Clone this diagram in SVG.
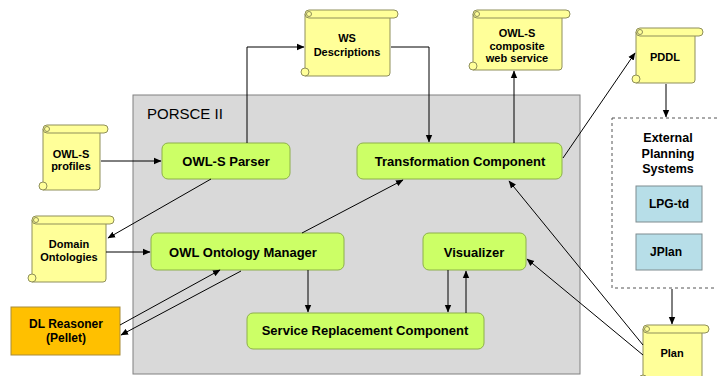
<svg xmlns="http://www.w3.org/2000/svg" width="717" height="376" viewBox="0 0 717 376">
<defs>
<marker id="arr" markerWidth="8" markerHeight="8" refX="7" refY="4" orient="auto" markerUnits="userSpaceOnUse">
<path d="M0,0.8 L7.5,4 L0,7.2 Z" fill="#000"/>
</marker>
<style>
.scroll{fill:#ffff99;stroke:#8f8f5a;stroke-width:1}
.curl{fill:#ffff99;stroke:#8f8f5a;stroke-width:1}
.green{fill:#ccff66;stroke:#8db04a;stroke-width:1}
.t{font-family:"Liberation Sans",Arial,sans-serif;font-weight:bold;text-anchor:middle;fill:#000}
.ts{font-size:11px}
.tn{font-size:13px}
.c{fill:none;stroke:#000;stroke-width:1;marker-end:url(#arr)}
</style>
</defs>
<rect width="717" height="376" fill="#fff"/>

<g id="porsce">
<rect x="133" y="95" width="447" height="279" fill="#d9d9d9" stroke="#808080" stroke-width="1"/>
<text x="147" y="119" font-family="'Liberation Sans',Arial,sans-serif" font-size="15" fill="#000">PORSCE II</text>
</g>

<g id="external">
<rect x="612" y="118" width="110" height="170" fill="#fff" stroke="#555" stroke-width="1" stroke-dasharray="3,3"/>
<text class="t" font-size="12.5" x="668" y="142">External</text>
<text class="t" font-size="12.5" x="668" y="158">Planning</text>
<text class="t" font-size="12.5" x="668" y="173">Systems</text>
</g>

<g id="lpgtd">
<rect x="636" y="186" width="66" height="36" fill="#b7dee8" stroke="#7f8c8f"/>
<text class="t" font-size="12" x="669" y="208">LPG-td</text>
</g>
<g id="jplan">
<rect x="636" y="234" width="66" height="36" fill="#b7dee8" stroke="#7f8c8f"/>
<text class="t" font-size="12" x="666" y="256">JPlan</text>
</g>

<g id="ws">
<path class="scroll" d="M305,14 H390 V73 Q390,76 387,76 H305 Z"/>
<rect class="scroll" x="305" y="10" width="93" height="8" rx="4"/>
<circle class="curl" cx="309" cy="14" r="2.5"/>
<circle class="curl" cx="305" cy="72" r="4"/>
<text class="t ts" x="347" y="42">WS</text>
<text class="t ts" x="347" y="56">Descriptions</text>
</g>

<g id="composite">
<path class="scroll" d="M473,14 H562 V67 Q562,70 559,70 H473 Z"/>
<rect class="scroll" x="473" y="10" width="97" height="8" rx="4"/>
<circle class="curl" cx="477" cy="14" r="2.5"/>
<circle class="curl" cx="473" cy="66" r="4"/>
<text class="t ts" x="517" y="37">OWL-S</text>
<text class="t ts" x="517" y="50">composite</text>
<text class="t ts" x="517" y="62">web service</text>
</g>

<g id="pddl">
<path class="scroll" d="M636,32 H695 V80 Q695,83 692,83 H636 Z"/>
<rect class="scroll" x="636" y="28" width="67" height="8" rx="4"/>
<circle class="curl" cx="640" cy="32" r="2.5"/>
<circle class="curl" cx="636" cy="79" r="4"/>
<text class="t ts" x="665" y="61">PDDL</text>
</g>

<g id="profiles">
<path class="scroll" d="M43,129 H100 V187 Q100,190 97,190 H43 Z"/>
<rect class="scroll" x="43" y="125" width="65" height="8" rx="4"/>
<circle class="curl" cx="47" cy="129" r="2.5"/>
<circle class="curl" cx="43" cy="186" r="4"/>
<text class="t ts" x="71" y="158">OWL-S</text>
<text class="t ts" x="71" y="170">profiles</text>
</g>

<g id="domain">
<path class="scroll" d="M32,220 H106 V279 Q106,282 103,282 H32 Z"/>
<rect class="scroll" x="32" y="216" width="82" height="8" rx="4"/>
<circle class="curl" cx="36" cy="220" r="2.5"/>
<circle class="curl" cx="32" cy="278" r="4"/>
<text class="t ts" x="69" y="248">Domain</text>
<text class="t ts" x="69" y="261">Ontologies</text>
</g>

<g id="plan">
<path class="scroll" d="M643,329 H702 V395 H643 Z"/>
<rect class="scroll" x="643" y="325" width="66" height="8" rx="4"/>
<circle class="curl" cx="647" cy="329" r="2.5"/>
<circle class="curl" cx="643" cy="379" r="4"/>
<text class="t ts" x="672" y="357">Plan</text>
</g>

<g id="dl">
<rect x="11" y="307" width="109" height="48" fill="#ffc000" stroke="#a88b3a"/>
<text class="t" font-size="12" x="66" y="328">DL Reasoner</text>
<text class="t" font-size="12" x="66" y="342">(Pellet)</text>
</g>

<g id="parser">
<rect class="green" x="162" y="143" width="128" height="36" rx="6"/>
<text class="t tn" x="226" y="166">OWL-S Parser</text>
</g>
<g id="transformation">
<rect class="green" x="357" y="143" width="205" height="36" rx="6"/>
<text class="t tn" x="460" y="166">Transformation Component</text>
</g>
<g id="oom">
<rect class="green" x="151" y="233" width="193" height="37" rx="6"/>
<text class="t tn" x="243" y="257">OWL Ontology Manager</text>
</g>
<g id="visualizer">
<rect class="green" x="423" y="233" width="103" height="37" rx="6"/>
<text class="t tn" x="474" y="257">Visualizer</text>
</g>
<g id="src">
<rect class="green" x="247" y="313" width="237" height="36" rx="6"/>
<text class="t tn" x="365" y="335">Service Replacement Component</text>
</g>

<g id="connectors">
<path class="c" d="M101,161 H161"/>
<path class="c" d="M247,143 V47 H304"/>
<path class="c" d="M391,47 H429 V142"/>
<path class="c" d="M514,143 V71"/>
<path class="c" d="M563,158 L635,53"/>
<path class="c" d="M666,84 V117"/>
<path class="c" d="M672,289 V324"/>
<path class="c" d="M211,179 L108,238"/>
<path class="c" d="M106,252 H150"/>
<path class="c" d="M302,233 L403,180"/>
<path class="c" d="M120,325 L220,270"/>
<path class="c" d="M241,271 L121,335"/>
<path class="c" d="M308,270 V312"/>
<path class="c" d="M448,270 V312"/>
<path class="c" d="M466,313 V271"/>
<path class="c" d="M643,355 L527,259"/>
<path class="c" d="M643,345 L509,181"/>
</g>
</svg>
